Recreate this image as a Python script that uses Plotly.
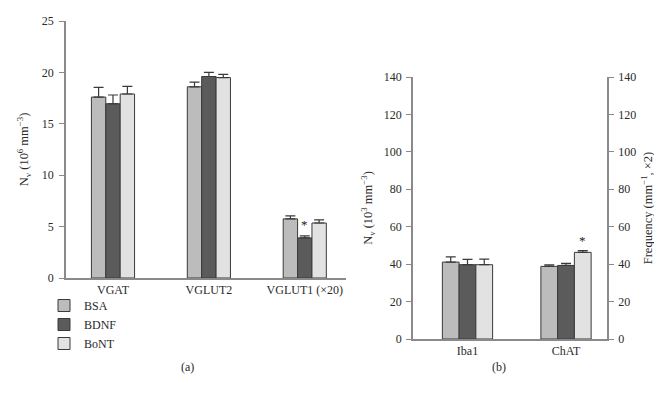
import plotly.graph_objects as go

# ---- data ----
cats_a = ["VGAT", "VGLUT2", "VGLUT1 (×20)"]
cats_b = ["Iba1", "ChAT"]
series = ["BSA", "BDNF", "BoNT"]

a_vals = {
    "BSA": [17.6, 18.6, 5.75],
    "BDNF": [16.95, 19.6, 3.9],
    "BoNT": [17.9, 19.5, 5.35],
}
a_err = {
    "BSA": [0.95, 0.45, 0.3],
    "BDNF": [0.85, 0.4, 0.2],
    "BoNT": [0.75, 0.3, 0.3],
}
b_vals = {
    "BSA": [41.1, 38.8],
    "BDNF": [39.7, 39.3],
    "BoNT": [39.7, 46.3],
}
b_err = {
    "BSA": [2.8, 0.8],
    "BDNF": [2.8, 1.1],
    "BoNT": [3.0, 0.9],
}
# significance markers: (panel, category, series, y)
sig = [("a", "VGLUT1 (×20)", "BDNF", 4.25), ("b", "ChAT", "BoNT", 47.8)]

colors = {"BSA": "#bcbcbc", "BDNF": "#5b5b5b", "BoNT": "#e2e2e2"}
FONT = "Liberation Serif, DejaVu Serif, serif"
TXT = "#2a2a2a"
AX = "#8a8a8a"

fig = go.Figure()

wa = 0.15
offs_a = {"BSA": -1.5 * wa, "BDNF": -0.5 * wa, "BoNT": 0.5 * wa}
wb = 0.17
offs_b = {"BSA": -1.5 * wb, "BDNF": -0.5 * wb, "BoNT": 0.5 * wb}

for s in series:
    fig.add_trace(go.Bar(
        x=cats_a, y=a_vals[s], name=s, width=wa, offset=offs_a[s],
        marker=dict(color=colors[s], line=dict(color="#3a3a3a", width=1)),
        error_y=dict(type="data", array=a_err[s], arrayminus=[0] * len(cats_a),
                     symmetric=False, color="#3a3a3a", thickness=1.2, width=5),
        xaxis="x", yaxis="y", showlegend=True,
    ))
for s in series:
    fig.add_trace(go.Bar(
        x=cats_b, y=b_vals[s], name=s, width=wb, offset=offs_b[s],
        marker=dict(color=colors[s], line=dict(color="#3a3a3a", width=1)),
        error_y=dict(type="data", array=b_err[s], arrayminus=[0] * len(cats_b),
                     symmetric=False, color="#3a3a3a", thickness=1.2, width=5),
        xaxis="x2", yaxis="y2", showlegend=False,
    ))
# invisible trace to carry the right axis of panel b
fig.add_trace(go.Scatter(x=cats_b, y=[None, None], xaxis="x2", yaxis="y3",
                         showlegend=False, hoverinfo="skip"))

annots = []
for panel, cat, s, yv in sig:
    if panel == "a":
        xi = cats_a.index(cat)
        xv = xi + offs_a[s] + wa / 2
        annots.append(dict(x=xv, y=yv, xref="x", yref="y", text="*", showarrow=False,
                           yanchor="bottom", font=dict(size=13, color="#222222", family=FONT)))
    else:
        xi = cats_b.index(cat)
        xv = xi + offs_b[s] + wb / 2
        annots.append(dict(x=xv, y=yv, xref="x2", yref="y2", text="*", showarrow=False,
                           yanchor="bottom", font=dict(size=13, color="#222222", family=FONT)))

W, H = 662, 394
annots += [
    dict(x=171 / W, y=1 - 368 / H, xref="paper", yref="paper", text="(a)", showarrow=False,
         font=dict(size=12, color=TXT, family=FONT)),
    dict(x=500 / W, y=1 - 368 / H, xref="paper", yref="paper", text="(b)", showarrow=False,
         font=dict(size=12, color=TXT, family=FONT)),
]

axis_common = dict(showline=True, linecolor=AX, linewidth=1.5, showgrid=False, zeroline=False,
                   tickfont=dict(size=12, color=TXT, family=FONT))

fig.update_layout(
    width=W, height=H,
    margin=dict(l=0, r=0, t=0, b=0),
    paper_bgcolor="white", plot_bgcolor="white",
    barmode="overlay",
    font=dict(family=FONT, color=TXT, size=12),
    xaxis=dict(domain=[58 / W, 338 / W], range=[-0.49, 2.43], anchor="y", ticks="",
               type="category", **axis_common),
    yaxis=dict(domain=[1 - 270 / H, 1 - 13 / H], range=[0, 25], dtick=5, anchor="x",
               ticks="outside", ticklen=5, tickcolor=AX, ticklabelstandoff=3,
               title=dict(text="N<sub>v</sub> (10<sup>6</sup> mm<sup>−3</sup>)",
                          font=dict(size=12.5, color=TXT, family=FONT), standoff=10),
               automargin=False, **axis_common),
    xaxis2=dict(domain=[405 / W, 599 / W], range=[-0.553, 1.416], anchor="y2", ticks="",
                type="category", **axis_common),
    yaxis2=dict(domain=[1 - 331 / H, 1 - 69 / H], range=[0, 140], dtick=20, anchor="x2",
                ticks="outside", ticklen=5, tickcolor=AX, ticklabelstandoff=2,
                title=dict(text="N<sub>v</sub> (10<sup>3</sup> mm<sup>−3</sup>)",
                           font=dict(size=12.5, color=TXT, family=FONT), standoff=8),
                automargin=False, **axis_common),
    yaxis3=dict(domain=[1 - 331 / H, 1 - 69 / H], range=[0, 140], dtick=20, anchor="x2",
                overlaying="y2", side="right",
                ticks="outside", ticklen=5, tickcolor=AX, ticklabelstandoff=2,
                title=dict(text="Frequency (mm<sup>−1</sup>, ×2)",
                           font=dict(size=12.5, color=TXT, family=FONT), standoff=8),
                automargin=False, **axis_common),
    legend=dict(x=36 / W, y=1 - 283 / H, xanchor="left", yanchor="top",
                font=dict(size=12, color=TXT, family=FONT), bgcolor="rgba(0,0,0,0)",
                tracegroupgap=0, itemwidth=30),
    annotations=annots,
)

fig.write_html("out.html")
